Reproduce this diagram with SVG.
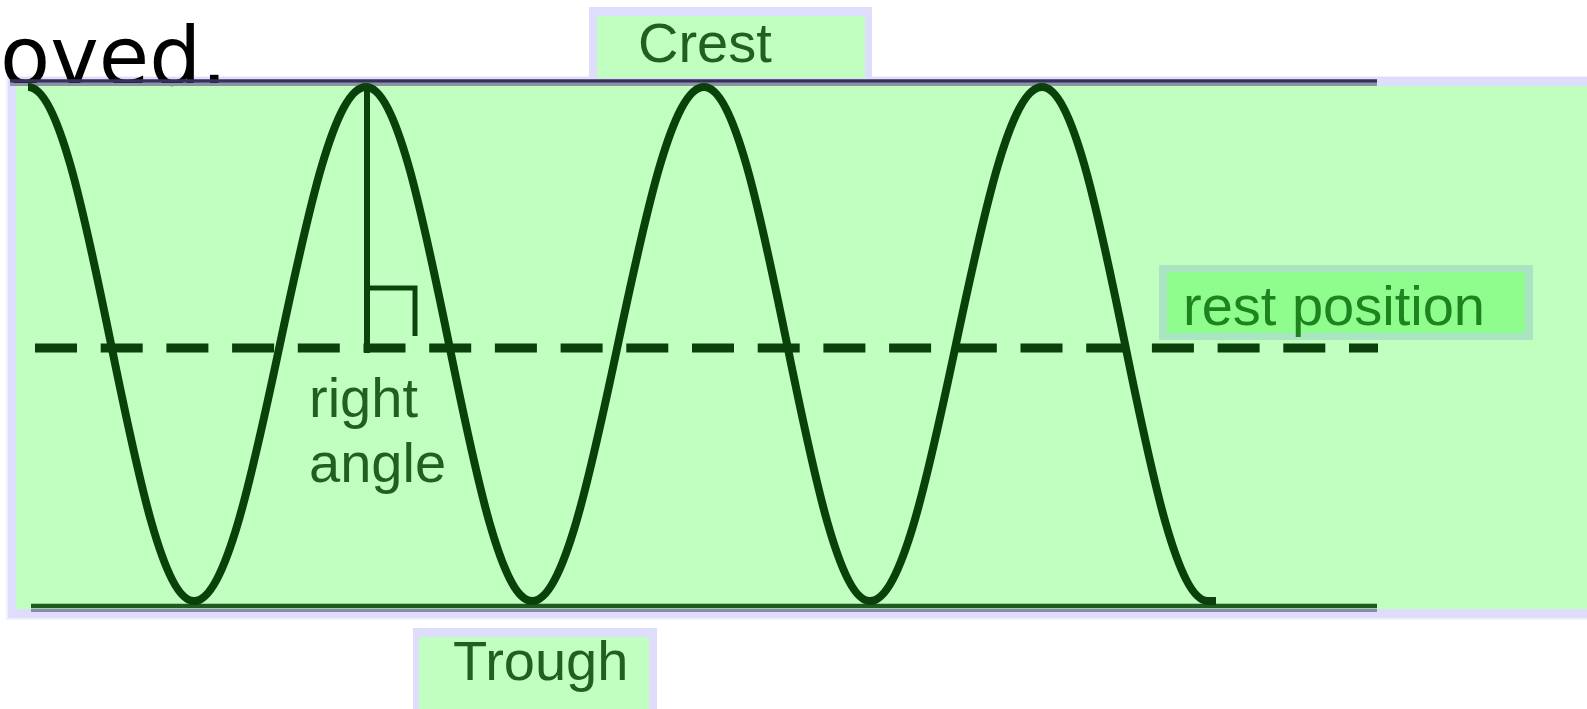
<svg xmlns="http://www.w3.org/2000/svg" width="1587" height="709" viewBox="0 0 1587 709">
  <style>
    .lbl { font-family: "Liberation Sans", Arial, sans-serif; font-size: 56px; fill: #215f21; }
    .rest { fill: #1e821e; }
    .wave { fill: none; stroke: #0a410a; stroke-width: 8; stroke-linejoin: round; }
    .ink { fill: none; stroke: #0c420c; }
  </style>
  <rect x="0" y="0" width="1587" height="709" fill="#ffffff"/>

  <g id="frame">
    <rect x="6" y="76" width="1581" height="544" fill="#f0f0fe"/>
    <rect x="8" y="77" width="1579" height="541" fill="#dedefc"/>
    <rect x="16" y="86" width="1571" height="523" fill="#c0ffc0"/>
  </g>

  <g id="caption-fragment">
    <text x="0" y="85" font-family="'DejaVu Sans', Verdana, sans-serif" font-size="82" fill="#000000">oved.</text>
  </g>

  <g id="crest">
    <rect x="589" y="7" width="283" height="74" fill="#dedefc"/>
    <rect x="597" y="16" width="268" height="62" fill="#c0ffc0"/>
    <text class="lbl" x="638" y="62">Crest</text>
  </g>

  <g id="trough">
    <rect x="413" y="628" width="244" height="81" fill="#dedefc"/>
    <rect x="419" y="637" width="230" height="72" fill="#c0ffc0"/>
    <text class="lbl" x="453" y="680">Trough</text>
  </g>

  <g id="rest-position">
    <rect x="1159" y="265" width="374" height="75" fill="#a9e5c2"/>
    <rect x="1167" y="272" width="358" height="61" fill="#8efd8e"/>
    <text class="lbl rest" x="1183" y="325">rest position</text>
  </g>

  <g id="connectors">
    <line x1="10" y1="81" x2="1377" y2="81" stroke="#333355" stroke-width="3.5"/>
    <line x1="10" y1="84.5" x2="1377" y2="84.5" stroke="#9090a8" stroke-width="3"/>
    <line x1="31" y1="610.5" x2="1377" y2="610.5" stroke="#8a88b0" stroke-width="3"/>
    <line x1="31" y1="606" x2="1377" y2="606" stroke="#1f5a1f" stroke-width="4.5"/>
    <line x1="35" y1="348" x2="1378" y2="348" stroke="#0b3f0b" stroke-width="9" stroke-dasharray="42 23.7"/>
    <line class="ink" x1="367" y1="86" x2="367" y2="353" stroke-width="6"/>
    <path class="ink" d="M367 288 H415 V336" stroke-width="5"/>
    <path id="wave" class="wave" d="M 28 87 C 58.04 87 83.93 211.3 111 344 C 138.07 476.7 163.96 601 194 601 C 225.12 601 251.95 476.7 280 344 C 308.05 211.3 334.88 87 366 87 C 396.04 87 421.93 211.3 449 344 C 476.07 476.7 501.96 601 532 601 C 563.12 601 589.95 476.7 618 344 C 646.05 211.3 672.88 87 704 87 C 734.04 87 759.93 211.3 787 344 C 814.07 476.7 839.96 601 870 601 C 901.12 601 927.95 476.7 956 344 C 984.05 211.3 1010.88 87 1042 87 C 1072.04 87 1097.93 211.3 1125 344 C 1152.07 476.7 1177.96 601 1208 601 L 1216 601"/>
  </g>

  <g id="right-angle">
    <text class="lbl" x="309" y="417">right</text>
    <text class="lbl" x="309" y="482">angle</text>
  </g>
</svg>
